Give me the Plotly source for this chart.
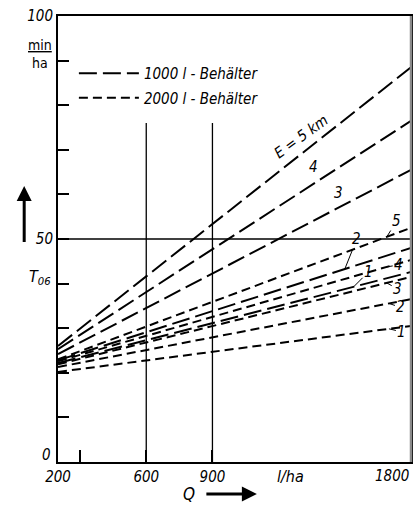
import plotly.graph_objects as go

# ---- data ----
Q = [200, 1800]
E_levels = [5, 4, 3, 2, 1]
T06_1000 = {5: [26.0, 88.5], 4: [25.3, 76.5], 3: [24.2, 65.5], 2: [22.8, 48.0], 1: [22.2, 42.6]}
T06_2000 = {5: [23.0, 52.5], 4: [22.6, 45.3], 3: [21.9, 41.5], 2: [21.3, 36.5], 1: [20.2, 30.5]}
x_tickvals = [200, 300, 600, 900, 1800]
x_ticktext = ["200", "", "600", "900", ""]
y_tickvals = list(range(0, 101, 10))
y_ticktext = ["", "", "", "", "", "50", "", "", "", "", "100"]
guide_x = [600, 900]
guide_x_top = 76
guide_y = [50]

FONT = "DejaVu Sans Condensed, Liberation Sans Narrow, DejaVu Sans"
LONG = "18px,6px"
SHORT = "9px,5px"

fig = go.Figure()

for i, e in enumerate(E_levels):
    fig.add_trace(go.Scatter(x=Q, y=T06_1000[e], mode="lines",
                             line=dict(color="black", width=2, dash=LONG),
                             name="1000 l - Behälter", legendgroup="1000",
                             showlegend=(i == 0), hoverinfo="skip"))
for i, e in enumerate(E_levels):
    fig.add_trace(go.Scatter(x=Q, y=T06_2000[e], mode="lines",
                             line=dict(color="black", width=2, dash=SHORT),
                             name="2000 l - Behälter", legendgroup="2000",
                             showlegend=(i == 0), hoverinfo="skip"))

# guide lines
for gx in guide_x:
    fig.add_shape(type="line", x0=gx, x1=gx, y0=0, y1=guide_x_top, xref="x", yref="y",
                  line=dict(color="black", width=1.3), layer="below")
for gy in guide_y:
    fig.add_shape(type="line", x0=Q[0], x1=Q[-1], y0=gy, y1=gy, xref="x", yref="y",
                  line=dict(color="black", width=1.3), layer="below")
# greyish right frame edge as in the scan
fig.add_shape(type="line", x0=1, x1=1, y0=0, y1=1, xref="paper", yref="paper",
              line=dict(color="#8a8a8a", width=2.5), layer="above")

def interp(series, q):
    return series[0] + (series[1] - series[0]) * (q - Q[0]) / (Q[1] - Q[0])

it = dict(family=FONT, size=15, color="black", style="italic")

# curve labels
fig.add_annotation(x=1300, y=72.9, text="E = 5 km", showarrow=False, textangle=-36, font=it)
fig.add_annotation(x=1358, y=66.1, text="4", showarrow=False, font=it)
fig.add_annotation(x=1471, y=60.3, text="3", showarrow=False, font=it)

labels_1000 = [(2, 1500, 12, -30), (1, 1540, 15, -15)]
for e, q, ax, ay in labels_1000:
    fig.add_annotation(x=q, y=interp(T06_1000[e], q), text=str(e), showarrow=True,
                       arrowhead=0, arrowwidth=1, arrowcolor="black", ax=ax, ay=ay, font=it)
labels_2000 = [(5, 1690, 10, -16), (4, 1690, 12, -2), (3, 1690, 11, 6), (2, 1700, 12, 4), (1, 1700, 13, 3)]
for e, q, ax, ay in labels_2000:
    fig.add_annotation(x=q, y=interp(T06_2000[e], q), text=str(e), showarrow=True,
                       arrowhead=0, arrowwidth=1, arrowcolor="black", ax=ax, ay=ay, font=it)

def px_x(p):
    return (p - 58) / 355

def px_y(p):
    return (462 - p) / 446

def note(text, x, y, font, xanchor="center"):
    fig.add_annotation(xref="paper", yref="paper", x=x, y=y, text=text, showarrow=False,
                       xanchor=xanchor, yanchor="middle", font=font)

# axis titles / units
note("<u>min</u><br>ha", px_x(40), px_y(54), dict(family=FONT, size=14, color="black"))
note("T<sub>06</sub>", px_x(40), px_y(277), dict(family=FONT, size=16, color="black", style="italic"))
note("0", px_x(53), px_y(455), it, xanchor="right")
note("l/ha", px_x(292), px_y(476), dict(family=FONT, size=16, color="black", style="italic"))
note("1800", 1.0, px_y(476), it, xanchor="right")
note("Q", px_x(190), px_y(494), dict(family=FONT, size=17, color="black", style="italic"))

fig.add_annotation(xref="paper", yref="paper", x=px_x(24), y=px_y(186), text=" ", showarrow=True,
                   arrowhead=2, arrowsize=1, arrowwidth=3, arrowcolor="black",
                   ax=0, ay=58, font=dict(size=1))
fig.add_annotation(xref="paper", yref="paper", x=px_x(258), y=px_y(494), text=" ", showarrow=True,
                   arrowhead=2, arrowsize=1, arrowwidth=3, arrowcolor="black",
                   ax=-52, ay=0, font=dict(size=1))

fig.update_layout(
    width=420, height=506,
    margin=dict(l=58, r=7, t=16, b=44),
    paper_bgcolor="white", plot_bgcolor="white",
    showlegend=True,
    legend=dict(x=0.045, y=0.908, xanchor="left", yanchor="top", bgcolor="rgba(0,0,0,0)",
                font=dict(family=FONT, size=15, color="black", style="italic"),
                itemwidth=60, tracegroupgap=2),
    xaxis=dict(range=[200, 1800], tickvals=x_tickvals, ticktext=x_ticktext,
               ticks="inside", ticklen=12, tickwidth=1.5, tickcolor="black",
               showgrid=False, zeroline=False, showline=True, linecolor="black", linewidth=2,
               mirror=True, tickfont=it),
    yaxis=dict(range=[0, 100], tickvals=y_tickvals, ticktext=y_ticktext,
               ticks="inside", ticklen=11, tickwidth=1.5, tickcolor="black",
               showgrid=False, zeroline=False, showline=True, linecolor="black", linewidth=2,
               mirror=True, tickfont=it),
)

fig.write_html("out.html", config={"displayModeBar": False},
               post_script="document.body.style.margin='0';")
